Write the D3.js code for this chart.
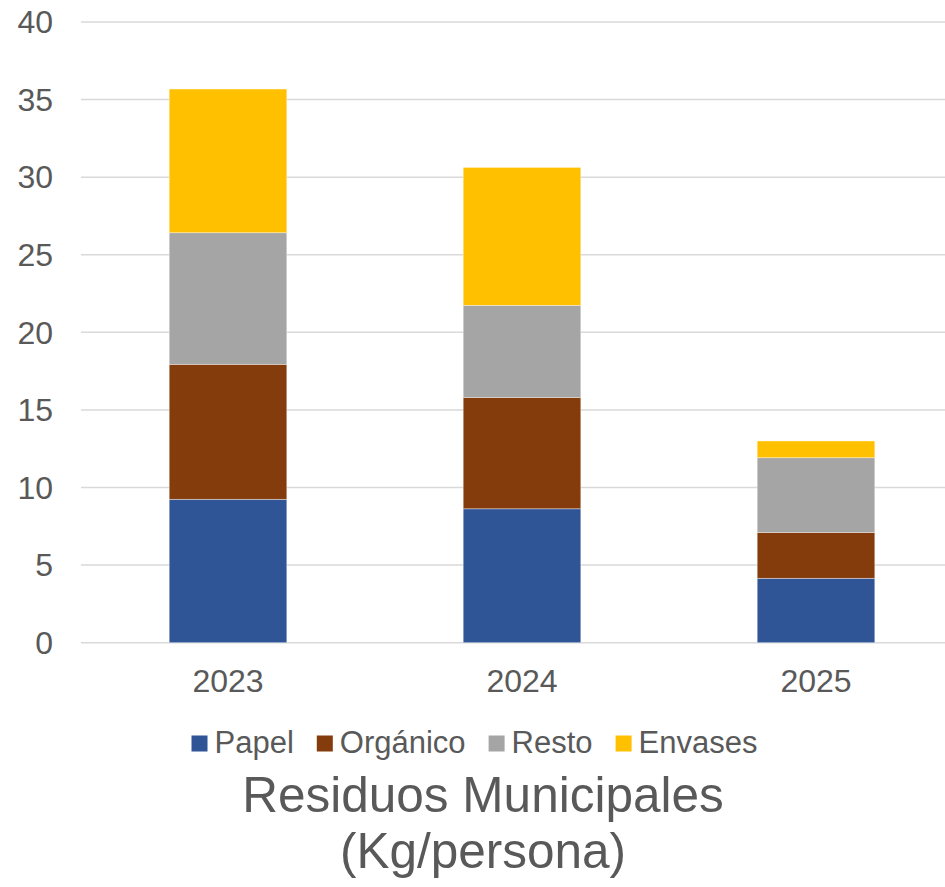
<!DOCTYPE html>
<html>
<head>
<meta charset="utf-8">
<script src="https://cdn.jsdelivr.net/npm/d3@7"></script>
<style>
  html, body { margin: 0; padding: 0; background: #fff; }
  svg { display: block; font-family: "Liberation Sans", Arial, sans-serif; }
</style>
</head>
<body>
<svg id="chart"></svg>
<script>
const years = ["2023", "2024", "2025"];
const seriesNames = ["Papel", "Orgánico", "Resto", "Envases"];
const papel = [9.24, 8.63, 4.15];
const organico = [8.70, 7.18, 2.96];
const resto = [8.48, 5.93, 4.81];
const envases = [9.26, 8.89, 1.08];
const yTicks = [0, 5, 10, 15, 20, 25, 30, 35, 40];
const colors = ["#2F5597", "#843C0C", "#A5A5A5", "#FFC000"];
const titleLines = ["Residuos Municipales", "(Kg/persona)"];

const width = 945, height = 887;
const textColor = "#595959";

const svg = d3.select("#chart").attr("width", width).attr("height", height);

// build rows for the stack
const rows = years.map((y, i) => ({
  year: y, "Papel": papel[i], "Orgánico": organico[i], "Resto": resto[i], "Envases": envases[i]
}));
const stacked = d3.stack().keys(seriesNames)(rows);

const x = d3.scaleBand().domain(years).range([81, 963]).paddingInner(0.6).paddingOuter(0.3);
const y = d3.scaleLinear().domain([0, 40]).range([642.7, 22]);

// gridlines
svg.append("g").selectAll("line")
  .data(yTicks)
  .join("line")
  .attr("x1", 81).attr("x2", width)
  .attr("y1", d => y(d)).attr("y2", d => y(d))
  .attr("stroke", "#d9d9d9")
  .attr("stroke-width", 1.5);

// y axis labels
svg.append("g").selectAll("text")
  .data(yTicks)
  .join("text")
  .attr("x", 53)
  .attr("y", d => y(d))
  .attr("dy", "0.35em")
  .attr("text-anchor", "end")
  .style("font-size", "32px")
  .style("fill", textColor)
  .text(d => d);

// bars
svg.append("g").selectAll("g")
  .data(stacked)
  .join("g")
  .attr("fill", (d, i) => colors[i])
  .selectAll("rect")
  .data(d => d)
  .join("rect")
  .attr("x", d => x(d.data.year))
  .attr("width", x.bandwidth())
  .attr("y", d => y(d[1]))
  .attr("height", d => y(d[0]) - y(d[1]))
  .attr("stroke", "#ffffff")
  .attr("stroke-opacity", 0.5)
  .attr("stroke-width", 0.75);

// x axis labels
svg.append("g").selectAll("text")
  .data(years)
  .join("text")
  .attr("x", d => x(d) + x.bandwidth() / 2)
  .attr("y", 681)
  .attr("dy", "0.35em")
  .attr("text-anchor", "middle")
  .style("font-size", "32px")
  .style("fill", textColor)
  .text(d => d);

// legend
const legend = svg.append("g");
const items = legend.selectAll("g")
  .data(seriesNames)
  .join("g");
items.append("rect")
  .attr("width", 16).attr("height", 16)
  .attr("y", 735.5)
  .attr("fill", (d, i) => colors[i]);
items.append("text")
  .attr("x", 23)
  .attr("y", 753)
  .style("font-size", "31px")
  .style("fill", textColor)
  .text(d => d);
const widths = [];
items.each(function() {
  const w = d3.select(this).select("text").node().getComputedTextLength();
  widths.push(23 + w);
});
const gap = 23;
const total = d3.sum(widths) + gap * (widths.length - 1);
let start = 474.5 - total / 2;
items.attr("transform", (d, i) => {
  const t = `translate(${start},0)`;
  start += widths[i] + gap;
  return t;
});

// title
svg.append("g").selectAll("text")
  .data(titleLines)
  .join("text")
  .attr("x", 483)
  .attr("y", (d, i) => 812 + i * 56)
  .attr("text-anchor", "middle")
  .style("font-size", "49.5px")
  .style("fill", textColor)
  .text(d => d);
</script>
</body>
</html>
